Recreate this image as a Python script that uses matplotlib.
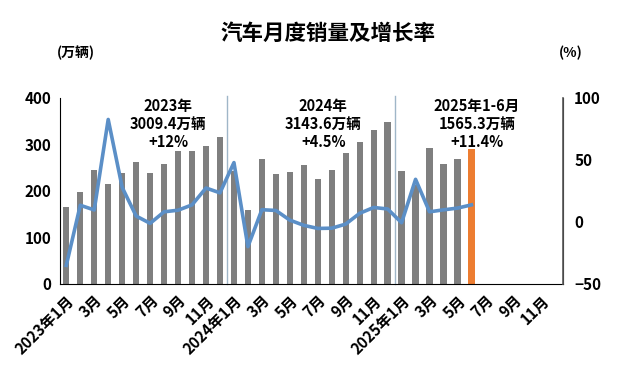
import matplotlib.pyplot as plt
import numpy as np

plt.rcParams['font.family'] = ['Noto Sans CJK SC', 'DejaVu Sans']
plt.rcParams['font.weight'] = 'bold'

# monthly sales (万辆), Jan 2023 .. Jun 2025
sales = [164.9, 197.6, 245.1, 215.9, 238.2, 262.2, 238.7, 258.2, 285.8, 285.3, 297.0, 315.6,
         243.9, 158.4, 269.4, 235.9, 241.7, 255.3, 226.2, 245.3, 280.9, 305.3, 331.6, 349.2,
         242.3, 212.9, 291.5, 259.0, 268.6, 290.4]
# year-on-year growth (%)
growth = [-35.0, 13.5, 9.7, 82.7, 27.9, 4.8, -1.1, 8.2, 9.5, 13.8, 27.4, 23.5,
          47.9, -19.9, 9.9, 9.3, 1.5, -2.7, -5.2, -5.0, -1.7, 7.0, 11.7, 10.5,
          -0.6, 34.4, 8.2, 9.8, 11.2, 13.8]

n_slots = 36
tick_labels = []
for i in range(n_slots):
    y, m = 2023 + i // 12, i % 12 + 1
    if m % 2 == 0:
        tick_labels.append('')
    elif m == 1:
        tick_labels.append(f'{y}年1月')
    else:
        tick_labels.append(f'{m}月')

year_notes = ['2023年\n3009.4万辆\n+12%', '2024年\n3143.6万辆\n+4.5%',
              '2025年1-6月\n1565.3万辆\n+11.4%']
note_x = [7.3, 18.4, 29.4]

W = 'heavy'

fig = plt.figure(figsize=(6.29, 3.75), dpi=100)
ax = fig.add_axes([0.0954, 0.2427, 0.7996, 0.496])
ax2 = ax.twinx()

x = np.arange(len(sales))
colors = ['#7f7f7f'] * (len(sales) - 1) + ['#ed7d31']
ax.bar(x, sales, width=0.45, color=colors, zorder=2)
ax.set_ylim(0, 400)
ax.set_yticks([0, 100, 200, 300, 400])
ax.set_xlim(-0.45, 35.55)
ax.set_xticks(range(n_slots))
ax.set_xticklabels(tick_labels, rotation=45, ha='right', rotation_mode='anchor',
                   fontsize=10.5, fontweight=W)
ax.tick_params(length=0, labelsize=11, pad=6)
for lab in ax.get_yticklabels():
    lab.set_fontweight(W)

for xv in [11.5, 23.5]:
    ax.axvline(xv, color='#9fb6c8', linewidth=1, zorder=1, ymax=1.01, clip_on=False)

ax2.plot(x, growth, color='#5b8fc7', linewidth=2.6, zorder=3)
ax2.set_ylim(-50, 100)
ax2.set_yticks([-50, 0, 50, 100])
ax2.tick_params(length=0, labelsize=11, pad=8)
for lab in ax2.get_yticklabels():
    lab.set_fontweight(W)

for a in (ax, ax2):
    a.spines['top'].set_visible(False)
ax.spines['left'].set_color('black')
ax.spines['bottom'].set_color('black')
ax2.spines['left'].set_visible(False)
ax2.spines['bottom'].set_visible(False)
ax2.spines['right'].set_color('#595959')
ax2.spines['right'].set_linewidth(1.2)

for t, xv in zip(year_notes, note_x):
    ax.text(xv, 400, t, ha='center', va='top', fontsize=10.5, fontweight=W,
            linespacing=1.15, zorder=4)

fig.text(0.522, 0.912, '汽车月度销量及增长率', ha='center', va='center',
         fontsize=15.5, fontweight=W)
fig.text(0.121, 0.86, '(万辆)', ha='center', va='center', fontsize=10, fontweight=W)
fig.text(0.908, 0.86, '(%)', ha='center', va='center', fontsize=10, fontweight=W)

fig.savefig('out.png', dpi=100)
